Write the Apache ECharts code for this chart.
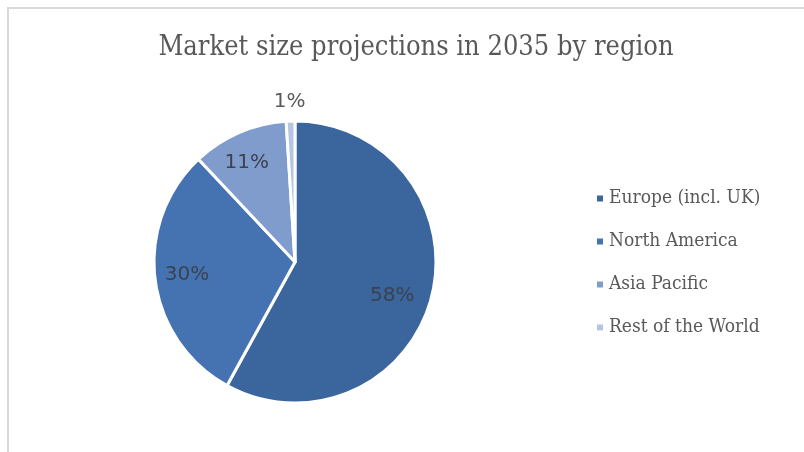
<!DOCTYPE html>
<html>
<head>
<meta charset="utf-8">
<script src="https://cdn.jsdelivr.net/npm/echarts@6/dist/echarts.min.js"></script>
<style>
  html, body { margin: 0; padding: 0; background: #ffffff; width: 804px; height: 452px; overflow: hidden; }
  .rule { position: absolute; background: #d9d9d9; }
  #ruleTop { left: 7px; top: 7px; width: 797px; height: 2px; }
  #ruleLeft { left: 7px; top: 7px; width: 2px; height: 445px; }
  #chart { position: absolute; left: 0; top: 0; width: 804px; height: 452px; }
</style>
</head>
<body>
<div class="rule" id="ruleTop"></div>
<div class="rule" id="ruleLeft"></div>
<div id="chart"></div>
<script>
// Regional shares of projected market size (percent)
const regions = ['Europe (incl. UK)', 'North America', 'Asia Pacific', 'Rest of the World'];
const shares = [58, 30, 11, 1];
const sliceColors = ['#3b669d', '#4573b2', '#7f9ccd', '#b6c6e2'];
// Nudges for the percentage labels relative to their default inside spot
const labelOffsets = [[26, 16], [-35, 4], [-19, -32], [-3, -87]];

const chart = echarts.init(document.getElementById('chart'), null, { renderer: 'canvas' });

const pieData = regions.map((name, i) => ({
  name: name,
  value: shares[i],
  itemStyle: { color: sliceColors[i] },
  label: { offset: labelOffsets[i], color: i === 3 ? '#595959' : '#3a4250' }
}));

chart.setOption({
  animation: false,
  backgroundColor: 'transparent',
  title: {
    text: 'Market size projections in 2035 by region',
    left: 411,
    textAlign: 'center',
    top: 29,
    textStyle: {
      fontFamily: '"DejaVu Serif Condensed", "Liberation Serif", serif',
      fontWeight: 'normal',
      fontSize: 27,
      color: '#595959'
    }
  },
  legend: {
    orient: 'vertical',
    left: 590,
    top: 184,
    itemWidth: 8,
    itemHeight: 8,
    itemGap: 24,
    icon: 'rect',
    textStyle: {
      fontFamily: '"DejaVu Serif Condensed", "Liberation Serif", serif',
      fontSize: 19,
      color: '#595959'
    },
    data: regions
  },
  series: [{
    type: 'pie',
    center: [295, 262],
    radius: 141,
    startAngle: 90,
    clockwise: true,
    avoidLabelOverlap: false,
    itemStyle: { borderColor: '#ffffff', borderWidth: 3 },
    label: {
      show: true,
      position: 'inside',
      formatter: '{c}%',
      fontFamily: '"DejaVu Sans", sans-serif',
      fontSize: 20,
      color: '#3a4250'
    },
    labelLine: { show: false },
    emphasis: { disabled: true },
    data: pieData
  }]
});
</script>
</body>
</html>
